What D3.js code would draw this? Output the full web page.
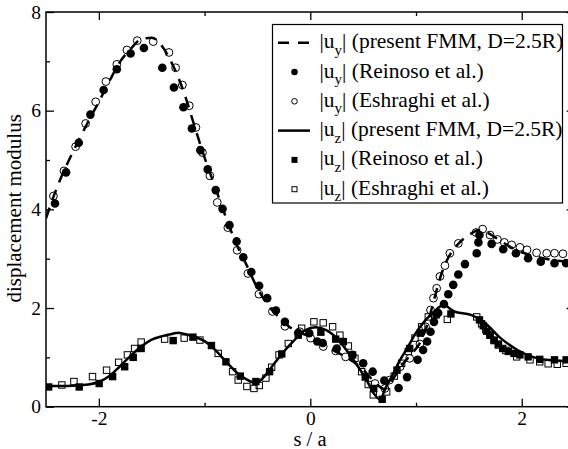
<!DOCTYPE html>
<html>
<head>
<meta charset="utf-8">
<script src="https://cdn.jsdelivr.net/npm/d3@7/dist/d3.min.js"></script>
<style>
  html, body { margin: 0; padding: 0; background: #fff; }
  svg { display: block; }
</style>
</head>
<body>
<svg id="chart" width="568" height="449"></svg>
<script>
// ---- data ----
const uyFMM = [[-2.5,3.82],[-2.4,4.42],[-2.3,4.92],[-2.2,5.36],[-2.1,5.78],[-2.0,6.18],[-1.9,6.6],[-1.8,6.99],[-1.7,7.25],[-1.6,7.45],[-1.5,7.48],[-1.4,7.3],[-1.3,6.92],[-1.2,6.4],[-1.1,5.72],[-1.0,5.05],[-0.9,4.45],[-0.8,3.85],[-0.7,3.3],[-0.6,2.86],[-0.5,2.4],[-0.4,2.06],[-0.3,1.82],[-0.2,1.62],[-0.1,1.5],[0.0,1.42],[0.1,1.28],[0.2,1.16],[0.3,1.05],[0.4,0.92],[0.5,0.75],[0.6,0.52],[0.7,0.36],[0.78,0.55],[0.85,0.8],[0.95,1.05],[1.05,1.35],[1.1,1.62],[1.15,2.0],[1.2,2.4],[1.25,2.75],[1.3,3.0],[1.4,3.3],[1.5,3.48],[1.6,3.58],[1.7,3.5],[1.8,3.36],[1.9,3.23],[2.0,3.13],[2.1,3.06],[2.2,3.01],[2.3,2.97],[2.4,2.95],[2.5,2.94]];

const uyReinoso = [[-2.415,4.12],[-2.31,4.75],[-2.19,5.35],[-2.08,5.92],[-1.955,6.42],[-1.83,6.84],[-1.70,7.16],[-1.574,7.27],[-1.40,6.87],[-1.29,6.47],[-1.20,6.07],[-1.12,5.64],[-1.04,5.20],[-0.97,4.81],[-0.895,4.39],[-0.83,4.01],[-0.765,3.68],[-0.697,3.35],[-0.634,3.03],[-0.558,2.73],[-0.484,2.45],[-0.408,2.20],[-0.325,1.95],[-0.24,1.72],[-0.114,1.50],[-0.01,1.49],[0.066,1.32],[0.117,1.29],[0.25,1.18],[0.397,1.05],[0.50,0.88],[0.59,0.71],[0.70,0.53],[0.835,0.38],[0.915,0.6],[1.015,0.95],[1.067,1.15],[1.105,1.32],[1.137,1.52],[1.17,1.72],[1.21,1.90],[1.264,2.08],[1.305,2.28],[1.352,2.47],[1.40,2.68],[1.463,2.89],[1.574,3.11],[1.59,3.33],[1.60,3.48],[1.715,3.30],[1.825,3.19],[1.945,3.11],[2.06,3.01],[2.18,2.94],[2.31,2.91],[2.42,2.91]];

const uyEshraghi = [[-2.43,4.27],[-2.33,4.78],[-2.22,5.27],[-2.125,5.74],[-2.03,6.18],[-1.933,6.59],[-1.83,6.94],[-1.735,7.23],[-1.637,7.42],[-1.486,7.40],[-1.337,7.18],[-1.274,6.87],[-1.21,6.52],[-1.145,6.10],[-1.082,5.66],[-1.02,5.15],[-0.95,4.68],[-0.88,4.14],[-0.78,3.63],[-0.692,3.17],[-0.59,2.70],[-0.486,2.28],[-0.358,1.93],[-0.24,1.63],[-0.10,1.52],[0.003,1.39],[0.122,1.22],[0.24,1.13],[0.334,1.01],[0.612,0.47],[0.706,0.37],[0.75,0.54],[0.85,0.81],[0.94,0.98],[1.037,1.27],[1.09,1.62],[1.137,1.96],[1.165,2.2],[1.195,2.40],[1.226,2.64],[1.274,2.86],[1.32,3.11],[1.40,3.31],[1.567,3.53],[1.63,3.60],[1.70,3.48],[1.77,3.39],[1.835,3.33],[1.905,3.28],[1.983,3.23],[2.05,3.18],[2.14,3.12],[2.236,3.11],[2.31,3.11],[2.39,3.10]];

const uzFMM = [[-2.5,0.42],[-2.3,0.42],[-2.1,0.45],[-2.0,0.5],[-1.9,0.62],[-1.8,0.82],[-1.7,1.03],[-1.6,1.22],[-1.5,1.36],[-1.4,1.43],[-1.3,1.48],[-1.25,1.5],[-1.2,1.48],[-1.1,1.42],[-1.0,1.33],[-0.9,1.15],[-0.8,0.92],[-0.7,0.7],[-0.6,0.55],[-0.52,0.48],[-0.45,0.58],[-0.35,0.85],[-0.25,1.12],[-0.15,1.35],[-0.05,1.55],[0.05,1.61],[0.15,1.55],[0.22,1.45],[0.33,1.18],[0.44,0.85],[0.54,0.51],[0.6,0.27],[0.665,0.14],[0.7,0.32],[0.78,0.65],[0.85,0.95],[0.92,1.2],[1.0,1.5],[1.1,1.78],[1.16,1.9],[1.26,2.06],[1.36,1.93],[1.52,1.86],[1.64,1.72],[1.8,1.39],[1.96,1.15],[2.15,0.98],[2.3,0.94],[2.5,0.91]];

const uzReinoso = [[-2.475,0.40],[-2.186,0.40],[-1.997,0.47],[-1.87,0.61],[-1.756,0.81],[-1.675,1.00],[-1.60,1.18],[-1.297,1.34],[-1.11,1.41],[-0.935,1.24],[-0.798,0.91],[-0.662,0.62],[-0.515,0.51],[-0.385,0.71],[-0.27,1.07],[-0.114,1.45],[0.10,1.51],[0.24,1.37],[0.312,1.32],[0.40,1.05],[0.52,0.60],[0.60,0.37],[0.68,0.15],[0.82,0.74],[0.94,1.18],[1.04,1.49],[1.19,1.86],[1.33,1.88],[1.60,1.76],[1.636,1.64],[1.67,1.53],[1.70,1.45],[1.737,1.35],[1.778,1.27],[1.82,1.18],[1.873,1.12],[1.927,1.08],[1.983,1.05],[2.06,1.01],[2.17,0.96],[2.31,0.95],[2.42,0.95]];

const uzEshraghi = [[-2.35,0.44],[-2.236,0.51],[-2.06,0.61],[-1.927,0.74],[-1.813,0.90],[-1.73,1.05],[-1.662,1.18],[-1.60,1.31],[-1.378,1.37],[-1.193,1.39],[-1.044,1.35],[-0.871,1.08],[-0.735,0.71],[-0.682,0.54],[-0.60,0.41],[-0.533,0.37],[-0.483,0.43],[-0.42,0.58],[-0.366,0.80],[-0.296,1.05],[-0.208,1.28],[-0.082,1.59],[0.034,1.72],[0.122,1.70],[0.211,1.62],[0.28,1.45],[0.36,1.23],[0.422,0.98],[0.486,0.71],[0.548,0.45],[0.596,0.24],[0.722,0.30],[0.794,0.62],[0.864,0.88],[0.927,1.12],[0.99,1.39],[1.053,1.62],[1.116,1.82],[1.296,1.77],[1.574,1.82],[1.62,1.68],[1.66,1.56],[1.70,1.45],[1.74,1.34],[1.78,1.25],[1.85,1.14],[1.952,1.01],[2.078,0.95],[2.17,0.91],[2.25,0.87],[2.336,0.86],[2.42,0.88]];

const xMajorTicks = [-2, 0, 2];
const xMinorTicks = [-1, 1];
const yMajorTicks = [0, 2, 4, 6, 8];
const yMinorTicks = [1, 3, 5, 7];
const xTitle = "s / a";
const yTitle = "displacement modulus";
const legendLabels = [
  {comp: "y", text: " (present FMM, D=2.5R)", sym: "dash"},
  {comp: "y", text: " (Reinoso et al.)", sym: "fcircle"},
  {comp: "y", text: " (Eshraghi et al.)", sym: "ocircle"},
  {comp: "z", text: " (present FMM, D=2.5R)", sym: "line"},
  {comp: "z", text: " (Reinoso et al.)", sym: "fsquare"},
  {comp: "z", text: " (Eshraghi et al.)", sym: "osquare"}
];

const FONT = "'Liberation Serif', 'Times New Roman', Times, 'DejaVu Serif', serif";

// ---- layout ----
const L = 46, R = 574.6, T = 12, B = 406.7;
const svg = d3.select("#chart");
const x = d3.scaleLinear().domain([-2.5, 2.5]).range([L, R]);
const y = d3.scaleLinear().domain([0, 8]).range([B, T]);

svg.append("defs").append("clipPath").attr("id", "clip")
  .append("rect").attr("x", L).attr("y", T).attr("width", R - L).attr("height", B - T);

const plot = svg.append("g").attr("clip-path", "url(#clip)");
const line = d3.line().x(d => x(d[0])).y(d => y(d[1])).curve(d3.curveMonotoneX);

plot.append("path").datum(uyFMM).attr("d", line)
  .attr("fill", "none").attr("stroke", "#000").attr("stroke-width", 2.5)
  .attr("stroke-dasharray", "11,8");

plot.append("g").selectAll("circle").data(uyReinoso).join("circle")
  .attr("cx", d => x(d[0])).attr("cy", d => y(d[1])).attr("r", 4.3).attr("fill", "#000");
plot.append("g").selectAll("circle").data(uyEshraghi).join("circle")
  .attr("cx", d => x(d[0])).attr("cy", d => y(d[1])).attr("r", 3.9)
  .attr("fill", "none").attr("stroke", "#000").attr("stroke-width", 1);

plot.append("path").datum(uzFMM).attr("d", line)
  .attr("fill", "none").attr("stroke", "#000").attr("stroke-width", 2.5);

const sq = 7.4;
plot.append("g").selectAll("rect").data(uzReinoso).join("rect")
  .attr("x", d => x(d[0]) - sq / 2).attr("y", d => y(d[1]) - sq / 2)
  .attr("width", sq).attr("height", sq).attr("fill", "#000");
plot.append("g").selectAll("rect").data(uzEshraghi).join("rect")
  .attr("x", d => x(d[0]) - sq / 2 + 0.5).attr("y", d => y(d[1]) - sq / 2 + 0.5)
  .attr("width", sq - 1).attr("height", sq - 1)
  .attr("fill", "none").attr("stroke", "#000").attr("stroke-width", 1);

// ---- axes (ticks inward on all four sides) ----
function styleAxis(g) {
  g.attr("font-family", FONT).attr("font-size", 19.5);
  g.select(".domain").remove();
  g.selectAll(".tick line").attr("stroke", "#000").attr("stroke-width", 1.3);
  g.selectAll(".tick text").attr("fill", "#000").attr("font-family", FONT).attr("font-size", 19.5);
}
const fmt = d => String(d);
svg.append("g").attr("transform", `translate(0,${B})`)
  .call(d3.axisBottom(x).tickValues(xMajorTicks).tickSize(-8).tickPadding(4).tickFormat(fmt))
  .call(styleAxis);
svg.append("g").attr("transform", `translate(0,${B})`)
  .call(d3.axisBottom(x).tickValues(xMinorTicks).tickSize(-4).tickFormat(""))
  .call(styleAxis);
svg.append("g").attr("transform", `translate(0,${T})`)
  .call(d3.axisTop(x).tickValues(xMajorTicks).tickSize(-8).tickFormat(""))
  .call(styleAxis);
svg.append("g").attr("transform", `translate(0,${T})`)
  .call(d3.axisTop(x).tickValues(xMinorTicks).tickSize(-4).tickFormat(""))
  .call(styleAxis);
svg.append("g").attr("transform", `translate(${L},0)`)
  .call(d3.axisLeft(y).tickValues(yMajorTicks).tickSize(-8).tickPadding(5).tickFormat(fmt))
  .call(styleAxis);
svg.append("g").attr("transform", `translate(${L},0)`)
  .call(d3.axisLeft(y).tickValues(yMinorTicks).tickSize(-4).tickFormat(""))
  .call(styleAxis);
svg.append("g").attr("transform", `translate(${R},0)`)
  .call(d3.axisRight(y).tickValues(yMajorTicks).tickSize(-8).tickFormat(""))
  .call(styleAxis);
svg.append("g").attr("transform", `translate(${R},0)`)
  .call(d3.axisRight(y).tickValues(yMinorTicks).tickSize(-4).tickFormat(""))
  .call(styleAxis);

svg.append("rect").attr("x", L).attr("y", T).attr("width", R - L).attr("height", B - T)
  .attr("fill", "none").attr("stroke", "#000").attr("stroke-width", 1.5);

// titles
svg.append("text").attr("x", 310).attr("y", 445.5)
  .attr("text-anchor", "middle").attr("font-family", FONT).attr("font-size", 20.5).text(xTitle);
svg.append("text").attr("transform", `translate(21,${(T + B) / 2 - 1}) rotate(-90)`)
  .attr("text-anchor", "middle").attr("font-family", FONT).attr("font-size", 21).text(yTitle);

// ---- legend ----
const lg = svg.append("g");
lg.append("rect").attr("x", 272.5).attr("y", 24.5).attr("width", 290).attr("height", 178.5)
  .attr("fill", "#fff").attr("stroke", "#000").attr("stroke-width", 1.2);
legendLabels.forEach((d, i) => {
  const sy = 42.7 + 29.3 * i;
  if (d.sym === "dash" || d.sym === "line") {
    lg.append("line").attr("x1", 278).attr("x2", 310).attr("y1", sy).attr("y2", sy)
      .attr("stroke", "#000").attr("stroke-width", 2.5)
      .attr("stroke-dasharray", d.sym === "dash" ? "11,9" : null);
  } else if (d.sym === "fcircle") {
    lg.append("circle").attr("cx", 294.5).attr("cy", sy).attr("r", 3.3).attr("fill", "#000");
  } else if (d.sym === "ocircle") {
    lg.append("circle").attr("cx", 294.5).attr("cy", sy).attr("r", 2.8)
      .attr("fill", "none").attr("stroke", "#000").attr("stroke-width", 1);
  } else if (d.sym === "fsquare") {
    lg.append("rect").attr("x", 291.5).attr("y", sy - 3).attr("width", 6).attr("height", 6).attr("fill", "#000");
  } else {
    lg.append("rect").attr("x", 292).attr("y", sy - 2.5).attr("width", 5).attr("height", 5)
      .attr("fill", "none").attr("stroke", "#000").attr("stroke-width", 1);
  }
  const t = lg.append("text").attr("x", 319.5).attr("y", sy + 5.5)
    .attr("font-family", FONT).attr("font-size", 21.5);
  t.append("tspan").text("|u");
  t.append("tspan").attr("dy", 6.5).attr("font-size", 15).text(d.comp);
  t.append("tspan").attr("dy", -6.5).text("|");
  t.append("tspan").text(d.text);
});
</script>
</body>
</html>
